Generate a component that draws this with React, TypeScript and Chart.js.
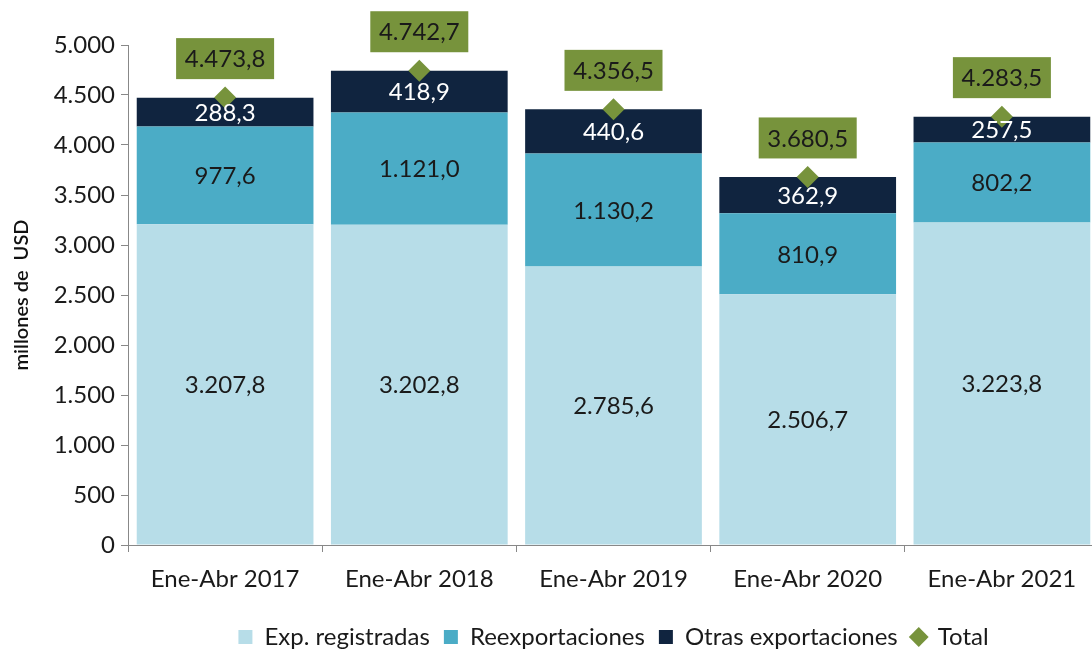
import React, { useEffect, useRef } from "react";
import { Chart, registerables } from "chart.js";

Chart.register(...registerables);

const categories = ["Ene-Abr 2017", "Ene-Abr 2018", "Ene-Abr 2019", "Ene-Abr 2020", "Ene-Abr 2021"];
const expRegistradas = [3207.8, 3202.8, 2785.6, 2506.7, 3223.8];
const reexportaciones = [977.6, 1121.0, 1130.2, 810.9, 802.2];
const otrasExportaciones = [288.3, 418.9, 440.6, 362.9, 257.5];
const totals = [4473.8, 4742.7, 4356.5, 3680.5, 4283.5];

const FONT = "Lato, 'Open Sans', sans-serif";

function fmtThousands(n: number): string {
  const s = Math.round(n).toString();
  return s.replace(/\B(?=(\d{3})+(?!\d))/g, ".");
}
function fmtValue(n: number): string {
  const fixed = n.toFixed(1);
  const [intPart, dec] = fixed.split(".");
  return fmtThousands(parseInt(intPart, 10)) + "," + dec;
}

const labelPlugin = {
  id: "valueLabels",
  afterDatasetsDraw(chart: any) {
    const ctx = chart.ctx;
    ctx.save();
    ctx.font = `24px ${FONT}`;
    ctx.textAlign = "center";
    ctx.textBaseline = "middle";
    const colors = ["#1a1a1a", "#1a1a1a", "#ffffff"];
    for (let d = 0; d < 3; d++) {
      const meta = chart.getDatasetMeta(d);
      meta.data.forEach((el: any, i: number) => {
        const v = chart.data.datasets[d].data[i] as number;
        const yc = (el.y + el.base) / 2;
        ctx.fillStyle = colors[d];
        ctx.fillText(fmtValue(v), el.x, yc + 1);
      });
    }
    const tMeta = chart.getDatasetMeta(3);
    tMeta.data.forEach((el: any, i: number) => {
      const v = chart.data.datasets[3].data[i] as number;
      const w = 98;
      const h = 41;
      const cy = el.y - 39;
      ctx.fillStyle = "#77933C";
      ctx.fillRect(el.x - w / 2, cy - h / 2, w, h);
      ctx.fillStyle = "#1a1a1a";
      ctx.fillText(fmtValue(v), el.x, cy + 1);
    });
    ctx.restore();
  },
};

export default function App() {
  const ref = useRef<HTMLCanvasElement | null>(null);
  useEffect(() => {
    if (!ref.current) return;
    const chart = new Chart(ref.current, {
      type: "bar",
      data: {
        labels: categories,
        datasets: [
          {
            label: "Exp. registradas",
            data: expRegistradas,
            backgroundColor: "#B7DDE8",
            stack: "s",
            order: 2,
            pointStyle: "rect",
          },
          {
            label: "Reexportaciones",
            data: reexportaciones,
            backgroundColor: "#4BACC6",
            stack: "s",
            order: 2,
            pointStyle: "rect",
          },
          {
            label: "Otras exportaciones",
            data: otrasExportaciones,
            backgroundColor: "#10243F",
            stack: "s",
            order: 2,
            pointStyle: "rect",
          },
          {
            type: "line",
            label: "Total",
            data: totals,
            showLine: false,
            pointStyle: "rectRot",
            pointRadius: 11,
            pointHoverRadius: 11,
            backgroundColor: "#77933C",
            borderColor: "#77933C",
            borderWidth: 0,
            order: 1,
          } as any,
        ],
      },
      options: {
        responsive: false,
        animation: false,
        layout: { padding: { top: 45, right: 10, left: 0, bottom: 0 } },
        datasets: {
          bar: { categoryPercentage: 1, barPercentage: 0.91 },
        },
        plugins: {
          legend: {
            position: "bottom",
            fullSize: false,
            labels: {
              usePointStyle: true,
              boxWidth: 14,
              boxHeight: 14,
              color: "#1a1a1a",
              font: { family: FONT, size: 24 },
              padding: 14,
              sort: (a: any, b: any) => a.datasetIndex - b.datasetIndex,
            },
          },
          tooltip: { enabled: false },
        },
        scales: {
          x: {
            stacked: true,
            afterFit: (s: any) => {
              s.height = 66;
            },
            grid: {
              display: true,
              drawOnChartArea: false,
              offset: true,
              tickLength: 7,
              color: "#888888",
            },
            border: { color: "#888888", width: 1 },
            ticks: {
              color: "#1a1a1a",
              font: { family: FONT, size: 24 },
              padding: 13,
            },
          },
          y: {
            stacked: true,
            min: 0,
            max: 5000,
            afterFit: (s: any) => {
              s.width = 128;
            },
            grid: {
              display: true,
              drawOnChartArea: false,
              tickLength: 7,
              color: "#888888",
            },
            border: { color: "#888888", width: 1 },
            ticks: {
              stepSize: 500,
              color: "#1a1a1a",
              font: { family: FONT, size: 24 },
              padding: 6,
              callback: (v: any) => fmtThousands(Number(v)),
            },
            title: {
              display: true,
              text: "millones de  USD",
              color: "#111111",
              font: { family: FONT, size: 20, weight: "600" },
              padding: { top: 10, bottom: 4 },
            },
          },
        },
      },
      plugins: [labelPlugin],
    });
    return () => chart.destroy();
  }, []);
  return (
    <div
      style={{
        position: "absolute",
        left: 0,
        top: 0,
        width: 1092,
        height: 649,
        overflow: "hidden",
        background: "#ffffff",
      }}
    >
      <canvas ref={ref} width={1110} height={659} style={{ width: 1110, height: 659, display: "block" }} />
    </div>
  );
}
